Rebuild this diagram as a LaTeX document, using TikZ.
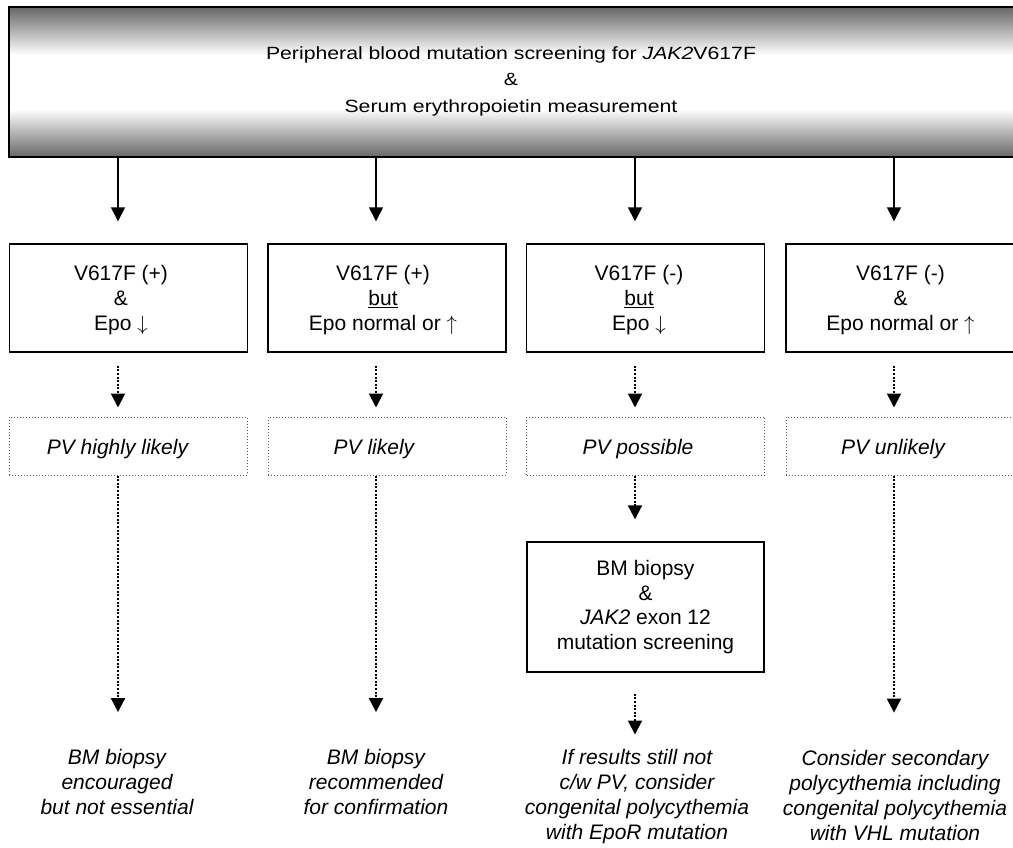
\documentclass[tikz,border=0pt]{standalone}
\usepackage{fontspec}
\setmainfont{Liberation Sans}
\newfontfamily\topfont[FakeStretch=1.2]{Liberation Sans}
\usetikzlibrary{arrows.meta}
\definecolor{dk}{gray}{0.4}
\pgfdeclareverticalshading{topbar}{100bp}{color(0bp)=(dk); color(25bp)=(dk); color(41bp)=(white); color(59bp)=(white); color(75bp)=(dk); color(100bp)=(dk)}
\tikzset{
  solidbox/.style={draw, line width=1.4pt, minimum width=238pt, minimum height=108pt, inner sep=0pt},
  dotbox/.style={draw=black!65, line width=1pt, dash pattern=on 1pt off 2pt, minimum width=238pt, minimum height=58pt, inner sep=0pt},
  topbox/.style={draw, line width=1.6pt, shading=topbar, minimum width=1021pt, minimum height=150pt, inner sep=0pt},
  txt/.style={align=center, inner sep=0pt, font=\fontsize{21}{24.7}\selectfont},
  itxt/.style={align=center, inner sep=0pt, font=\fontsize{21}{25}\selectfont\itshape},
  toptxt/.style={align=center, inner sep=0pt, font=\fontsize{17.7}{26.5}\topfont},
  arr/.style={line width=1.5pt, -{Triangle[width=14pt,length=14pt]}},
  darr/.style={line width=2pt, dash pattern=on 2pt off 1.6pt, -{Triangle[width=14pt,length=14pt]}},
}
\begin{document}
\begin{tikzpicture}[x=1pt,y=-1pt]
\useasboundingbox (0,0) rectangle (1013,847);
\clip (0,0) rectangle (1013,847);
% column axes
\coordinate (c1) at (118,0);
\coordinate (c2) at (376,0);
\coordinate (c3) at (635,0);
\coordinate (c4) at (894,0);
% top box
\node[topbox] (top) at (519.6,82) {};
\node[toptxt] (toptext) at (511,81) {Peripheral blood mutation screening for \textit{JAK2}V617F\\\&\\Serum erythropoietin measurement};
% first row boxes
\node[solidbox] (b1) at (128.3,298) {};
\node[solidbox] (b2) at (387,298) {};
\node[solidbox] (b3) at (645.5,298) {};
\node[solidbox] (b4) at (905,298) {};
\node[txt] (t1) at (121,300) {V617F (+)\\\&\\Epo $\downarrow$};
\node[txt] (t2) at (383,300) {V617F (+)\\\underline{but}\\Epo normal or $\uparrow$};
\node[txt] (t3) at (639,300) {V617F (-)\\\underline{but}\\Epo $\downarrow$};
\node[txt] (t4) at (900.5,300) {V617F (-)\\\&\\Epo normal or $\uparrow$};
% dotted boxes
\node[dotbox] (d1) at (128.3,446) {};
\node[dotbox] (d2) at (387,446) {};
\node[dotbox] (d3) at (645.5,446) {};
\node[dotbox] (d4) at (905,446) {};
\node[itxt] (p1) at (117.5,449.5) {PV highly likely};
\node[itxt] (p2) at (374,449.5) {PV likely};
\node[itxt] (p3) at (638,449.5) {PV possible};
\node[itxt] (p4) at (893,449.5) {PV unlikely};
% BM box in column 3
\node[solidbox, txt, minimum width=237pt, minimum height=130pt, line width=1.4pt, draw] (bm) at (645.5,607) {BM biopsy\\\&\\\textit{JAK2} exon 12\\mutation screening};
% bottom texts
\node[itxt] (r1) at (117,782) {BM biopsy\\encouraged\\but not essential};
\node[itxt] (r2) at (376,782) {BM biopsy\\recommended\\for confirmation};
\node[itxt] (r3) at (637,797) {If results still not\\c/w PV, consider\\congenital polycythemia\\with EpoR mutation};
\node[itxt] (r4) at (895,795) {Consider secondary\\polycythemia including\\congenital polycythemia\\with VHL mutation};
% solid arrows
\foreach \i in {1,2,3,4}{
  \draw[arr, shorten >=22pt] (top.south -| c\i) -- (b\i.north -| c\i);
  \draw[darr, shorten <=13pt, shorten >=9pt] (b\i.south -| c\i) -- (d\i.north -| c\i);
}
% long dotted arrows
\draw[darr, shorten >=37pt] (d1.south -| c1) -- (r1.north -| c1);
\draw[darr, shorten >=37pt] (d2.south -| c2) -- (r2.north -| c2);
\draw[darr, shorten >=37pt] (d4.south -| c4) -- (r4.north -| c4);
\draw[darr, shorten >=22pt] (d3.south -| c3) -- (bm.north -| c3);
\draw[darr, shorten <=21pt, shorten >=15pt] (bm.south -| c3) -- (r3.north -| c3);
\end{tikzpicture}
\end{document}
